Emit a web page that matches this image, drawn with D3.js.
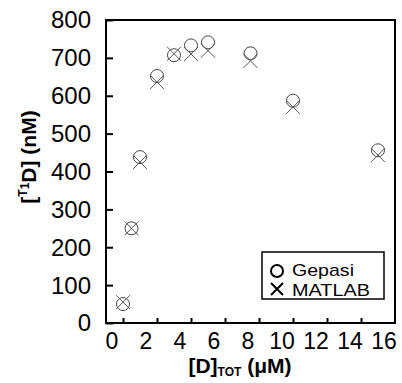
<!DOCTYPE html>
<html>
<head>
<meta charset="utf-8">
<script src="https://cdn.jsdelivr.net/npm/d3@7"></script>
<style>
  body { margin: 0; background: #fff; }
  svg { display: block; }
</style>
</head>
<body>
<svg id="chart" width="402" height="383"></svg>
<script>
// data
const dTot = [1, 1.5, 2, 3, 4, 5, 6, 8.5, 11, 16]
const gepasi = [50, 250, 438, 652, 707, 733, 741, 712, 587, 456]
const matlab = [55, 250, 425, 636, 711, 710, 719, 692, 570, 443]
const xTickMarks = [1, 3, 5, 7, 9, 11, 13, 15]
const xTickLabels = [0, 2, 4, 6, 8, 10, 12, 14, 16]
const yTicks = [0, 100, 200, 300, 400, 500, 600, 700, 800]

const width = 402
const height = 383
const margin = { top: 20, right: 7, bottom: 60, left: 106 }
const font = 'Arial, "Liberation Sans", sans-serif'

const svg = d3.select('#chart')

const x = d3.scaleLinear().domain([0, 17]).range([margin.left, width - margin.right])
const y = d3.scaleLinear().domain([0, 800]).range([height - margin.bottom, margin.top])

// markers
const pts = svg.append('g').attr('id', 'points')
const r = 6.5
pts.selectAll('circle')
  .data(dTot.map((d, i) => [d, gepasi[i]]))
  .join('circle')
  .attr('cx', (d) => x(d[0]))
  .attr('cy', (d) => y(d[1]))
  .attr('r', r)
  .attr('fill', 'none')
  .attr('stroke', '#444')
  .attr('stroke-width', 1)

const s = 7
pts.selectAll('path')
  .data(dTot.map((d, i) => [d, matlab[i]]))
  .join('path')
  .attr('d', (d) => {
    const cx = x(d[0]), cy = y(d[1])
    return `M${cx - s},${cy - s}L${cx + s},${cy + s}M${cx - s},${cy + s}L${cx + s},${cy - s}`
  })
  .attr('fill', 'none')
  .attr('stroke', '#555')
  .attr('stroke-width', 1)

// frame
svg.append('rect')
  .attr('x', x(0))
  .attr('y', y(800))
  .attr('width', x(17) - x(0))
  .attr('height', y(0) - y(800))
  .attr('fill', 'none')
  .attr('stroke', '#000')
  .attr('stroke-width', 2)

// y axis, inner ticks
const yAxis = svg.append('g')
  .attr('transform', `translate(${x(0)},0)`)
  .call(d3.axisRight(y).tickValues(yTicks).tickSize(7).tickFormat(''))
yAxis.select('.domain').remove()
yAxis.selectAll('line').attr('stroke-width', 2)

svg.append('g')
  .selectAll('text')
  .data(yTicks)
  .join('text')
  .attr('x', 91)
  .attr('y', (d) => y(d))
  .attr('dy', '0.35em')
  .attr('text-anchor', 'end')
  .attr('font-family', font)
  .attr('font-size', 24)
  .text((d) => d)

// x axis, inner ticks
const xAxis = svg.append('g')
  .attr('transform', `translate(0,${y(0)})`)
  .call(d3.axisTop(x).tickValues(xTickMarks).tickSize(5).tickFormat(''))
xAxis.select('.domain').remove()
xAxis.selectAll('line').attr('stroke-width', 2)

svg.append('g')
  .selectAll('text')
  .data(xTickLabels)
  .join('text')
  .attr('x', (d) => x(d) + 6)
  .attr('y', 349)
  .attr('text-anchor', 'middle')
  .attr('font-family', font)
  .attr('font-size', 23)
  .text((d) => d)

// axis titles
const xt = svg.append('text')
  .attr('x', 240)
  .attr('y', 373)
  .attr('text-anchor', 'middle')
  .attr('font-family', font)
  .attr('font-size', 21)
  .attr('font-weight', 'bold')
xt.append('tspan').text('[D]')
xt.append('tspan').attr('font-size', 12).attr('dy', 3).text('TOT')
xt.append('tspan').attr('dy', -3).text(' (\u03bcM)')

const yt = svg.append('text')
  .attr('transform', 'translate(36,157) rotate(-90)')
  .attr('text-anchor', 'middle')
  .attr('font-family', font)
  .attr('font-size', 21)
  .attr('font-weight', 'bold')
yt.append('tspan').text('[')
yt.append('tspan').attr('font-size', 12).attr('dy', -9).text('T')
yt.append('tspan').attr('font-size', 12).attr('dy', 2).text('1')
yt.append('tspan').attr('dy', 7).text('D] (nM)')

// legend
const lg = svg.append('g').attr('id', 'legend')
lg.append('rect')
  .attr('x', 262)
  .attr('y', 252)
  .attr('width', 122)
  .attr('height', 47)
  .attr('fill', '#fff')
  .attr('stroke', '#000')
  .attr('stroke-width', 1.5)
lg.append('circle')
  .attr('cx', 277)
  .attr('cy', 271)
  .attr('r', 6)
  .attr('fill', 'none')
  .attr('stroke', '#000')
  .attr('stroke-width', 2)
lg.append('path')
  .attr('d', 'M271,283L283,295M271,295L283,283')
  .attr('stroke', '#000')
  .attr('stroke-width', 2)
lg.append('text')
  .attr('x', 292)
  .attr('y', 276)
  .attr('font-family', font)
  .attr('font-size', 17)
  .attr('textLength', 62)
  .attr('lengthAdjust', 'spacingAndGlyphs')
  .text('Gepasi')
lg.append('text')
  .attr('x', 292)
  .attr('y', 296)
  .attr('font-family', font)
  .attr('font-size', 17)
  .attr('textLength', 78)
  .attr('lengthAdjust', 'spacingAndGlyphs')
  .text('MATLAB')
</script>
</body>
</html>
